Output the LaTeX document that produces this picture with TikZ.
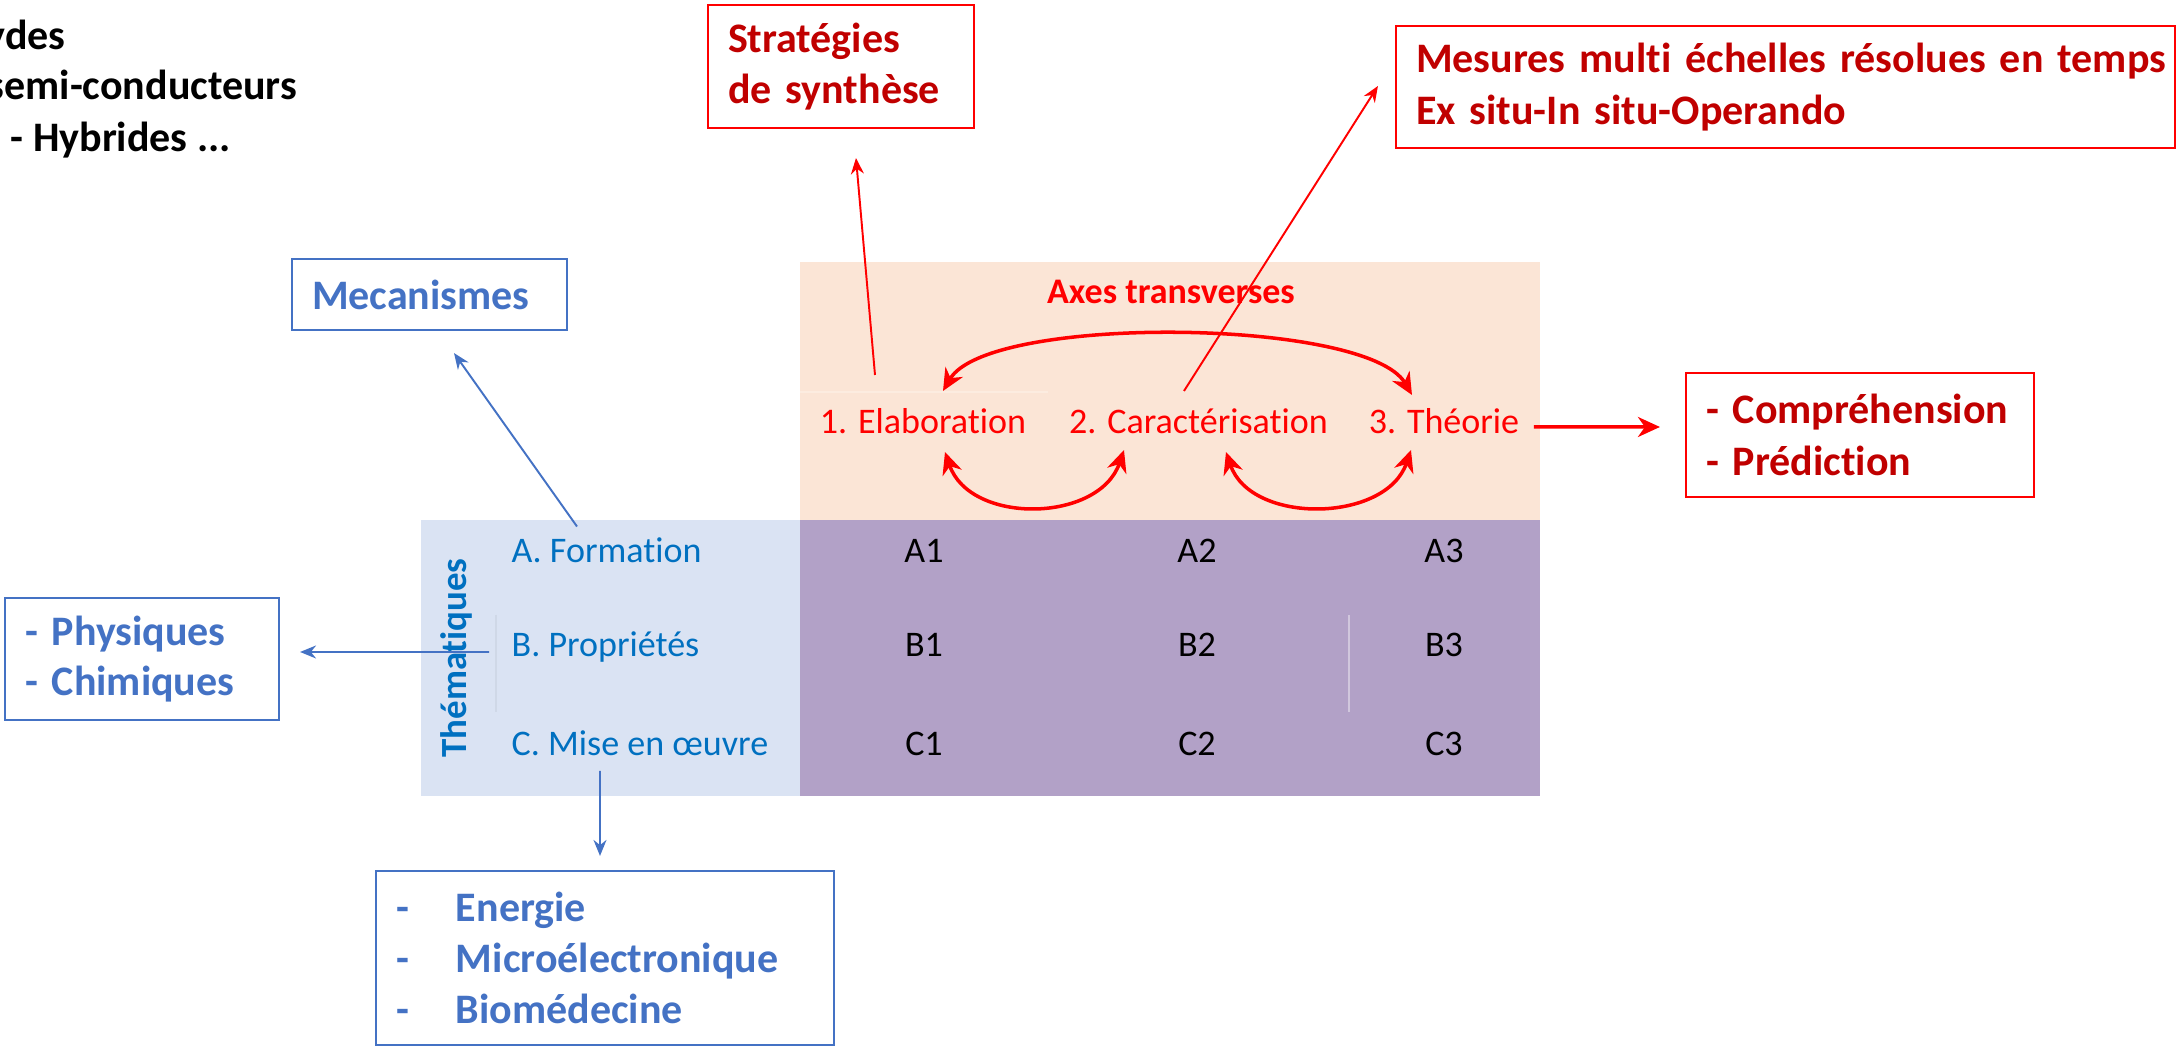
\documentclass[tikz,border=0pt]{standalone}
\usepackage{fontspec}
\setmainfont{Carlito}[Ligatures=NoCommon]
\usepackage{tikz}
\usepackage{xcolor}
\usetikzlibrary{arrows, arrows.meta}
\definecolor{boxred}{HTML}{FF0000}
\definecolor{darkred}{HTML}{C00000}
\definecolor{boxblue}{HTML}{4472C4}
\definecolor{themeblue}{HTML}{0070C0}
\definecolor{peach}{HTML}{FBE5D6}
\definecolor{paleblue}{HTML}{DAE3F3}
\definecolor{lilac}{HTML}{B2A1C7}
\tikzstyle{redbox} = [rectangle, draw=boxred, line width=0.6pt, inner xsep=0.2cm, inner ysep=0cm, align=left, text=darkred, font=\fontsize{11.95pt}{14.6pt}\selectfont\bfseries]
\tikzstyle{bluebox} = [rectangle, draw=boxblue, line width=0.6pt, inner xsep=0.2cm, inner ysep=0cm, align=left, text=boxblue, font=\fontsize{11.95pt}{14.4pt}\selectfont\bfseries]
\tikzstyle{axis} = [inner sep=0, anchor=base, text=boxred, font=\fontsize{10.25pt}{12.5pt}\selectfont]
\tikzstyle{theme} = [inner sep=0, anchor=base west, text=themeblue, font=\fontsize{10.25pt}{12.5pt}\selectfont]
\tikzstyle{cell} = [inner sep=0, anchor=base, text=black, font=\fontsize{10.25pt}{12.5pt}\selectfont]
\tikzstyle{topnote} = [inner sep=0, anchor=base west, text=black, font=\fontsize{11.95pt}{14.6pt}\selectfont\bfseries]
\tikzstyle{arrow} = [->, line width=0.55pt, >={Stealth[length=0.16cm, width=0.13cm]}]
\tikzstyle{bigarrow} = [line width=1pt, >={Stealth[length=0.22cm, width=0.2cm, inset=0.07cm]}]
\tikzstyle{faint} = [line width=0.3pt]

\begin{document}
\begin{tikzpicture}
        \useasboundingbox (0,0) rectangle (21.78,-10.46);

        % fonds du tableau
        \fill [peach] (8.00,-2.62) rectangle (15.40,-5.20);
        \fill [paleblue] (4.21,-5.20) rectangle (8.00,-7.96);
        \fill [lilac] (8.00,-5.20) rectangle (15.40,-7.96);
        \draw [faint, peach!75!white] (8.00,-3.92) -- (10.48,-3.92);
        \draw [faint, paleblue!95!black] (4.96,-6.15) -- (4.96,-7.12);
        \draw [faint, lilac!60!white] (13.49,-6.15) -- (13.49,-7.12);

        \node (oxy) [topnote] at (-0.15,-0.50) {ydes};
        \node (semi) [topnote] at (-0.13,-1.00) {semi-conducteurs};
        \node (hyb) [topnote] at (0.10,-1.52) {- Hybrides ...};

        \node (strat) [redbox, text width=2.26cm, minimum height=1.23cm] at (8.41,-0.665)
        {Stratégies\\de synthèse};
        \node (mes) [redbox, text width=7.39cm, minimum height=1.22cm] at (17.855,-0.87)
        {\mbox{Mesures multi échelles résolues en temps}\\Ex situ-In situ-Operando};
        \node (comp) [redbox, text width=3.08cm, minimum height=1.24cm] at (18.60,-4.35)
        {- Compréhension\\- Prédiction};
        \node (meca) [bluebox, text width=2.35cm, minimum height=0.71cm] at (4.295,-2.945)
        {Mecanismes};
        \node (phys) [bluebox, text width=2.34cm, minimum height=1.22cm] at (1.42,-6.59)
        {- Physiques\\- Chimiques};
        \node (ener) [bluebox, text width=4.18cm, minimum height=1.74cm] at (6.05,-9.58)
        {\makebox[0.6cm][l]{-}Energie\\\makebox[0.6cm][l]{-}Microélectronique\\\makebox[0.6cm][l]{-}Biomédecine};

        \node (axes) [axis, font=\fontsize{10.25pt}{12.5pt}\selectfont\bfseries] at (11.71,-3.04) {Axes transverses};
        \node (elab) [axis] at (9.23,-4.34) {1. Elaboration};
        \node (carac) [axis] at (11.985,-4.34) {2. Caractérisation};
        \node (theo) [axis] at (14.44,-4.34) {3. Théorie};

        \node (forma) [theme] at (5.11,-5.63) {A. Formation};
        \node (propr) [theme] at (5.11,-6.57) {B. Propriétés};
        \node (mise) [theme] at (5.11,-7.56) {C. Mise en œuvre};
        \node (themes) [inner sep=0, anchor=base, rotate=90, text=themeblue, font=\fontsize{10.5pt}{12.5pt}\selectfont\bfseries] at (4.66,-6.58) {Thématiques};

        \node (A1) [cell] at (9.24,-5.63) {A1};
        \node (A2) [cell] at (11.97,-5.63) {A2};
        \node (A3) [cell] at (14.44,-5.63) {A3};
        \node (B1) [cell] at (9.24,-6.57) {B1};
        \node (B2) [cell] at (11.97,-6.57) {B2};
        \node (B3) [cell] at (14.44,-6.57) {B3};
        \node (C1) [cell] at (9.24,-7.56) {C1};
        \node (C2) [cell] at (11.97,-7.56) {C2};
        \node (C3) [cell] at (14.44,-7.56) {C3};

        \draw [arrow, boxblue] ([xshift=0.66cm, yshift=0.11cm]forma.north west) -- ([xshift=0.245cm, yshift=-0.22cm]meca.south);
        \draw [arrow, boxblue] ([xshift=-0.22cm, yshift=0.05cm]propr.base west) -- ([xshift=0.2cm, yshift=0.07cm]phys.east);
        \draw [arrow, boxblue] ([xshift=0.89cm, yshift=-0.15cm]mise.base west) -- ([xshift=-0.05cm, yshift=0.14cm]ener.north);

        \draw [arrow, boxred] ([xshift=-0.48cm, yshift=0.59cm]elab.base) -- ([xshift=0.15cm, yshift=-0.29cm]strat.south);
        \draw [arrow, boxred] ([xshift=-0.145cm, yshift=0.43cm]carac.base) -- ([xshift=-0.17cm, yshift=0.01cm]mes.west);
        \draw [bigarrow, ->, boxred] ([xshift=0.14cm, yshift=0.07cm]theo.base east) -- ([xshift=-0.25cm, yshift=0.08cm]comp.west);

        \draw [bigarrow, <->, boxred] ([xshift=0.2cm, yshift=0.43cm]elab.base) .. controls +(0.45,0.77) and +(-0.45,0.77) .. ([xshift=-0.32cm, yshift=0.39cm]theo.base);
        \draw [bigarrow, <->, boxred] ([xshift=0.22cm, yshift=-0.18cm]elab.base) .. controls +(0.25,-0.73) and +(-0.25,-0.73) .. ([xshift=-0.745cm, yshift=-0.16cm]carac.base);
        \draw [bigarrow, <->, boxred] ([xshift=0.275cm, yshift=-0.18cm]carac.base) .. controls +(0.25,-0.73) and +(-0.25,-0.73) .. ([xshift=-0.33cm, yshift=-0.16cm]theo.base);

    \end{tikzpicture}
\end{document}
